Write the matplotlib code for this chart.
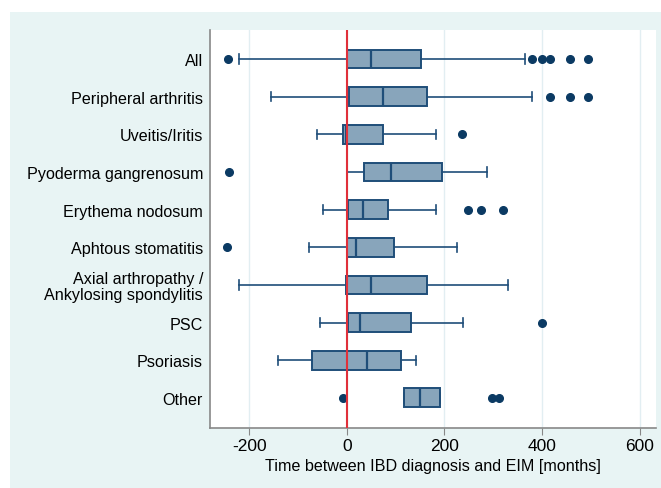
import matplotlib
matplotlib.use("Agg")
import matplotlib.pyplot as plt
from matplotlib.patches import Rectangle

plt.rcParams['font.family'] = ['Liberation Sans', 'DejaVu Sans']

categories = ["All", "Peripheral arthritis", "Uveitis/Iritis", "Pyoderma gangrenosum",
              "Erythema nodosum", "Aphtous stomatitis",
              "Axial arthropathy /\nAnkylosing spondylitis", "PSC", "Psoriasis", "Other"]
whislo = [-220, -155, -61, 0, -48, -78, -220, -55, -140, 118]
q1 = [0, 5, -8, 36, 2, 0, -2, 2, -72, 118]
med = [50, 75, -2, 90, 33, 19, 50, 28, 41, 150]
q3 = [151, 164, 75, 194, 85, 97, 164, 132, 110, 190]
whishi = [365, 380, 183, 287, 183, 226, 331, 238, 141, 190]
fliers = [[-243, 380, 399, 415, 457, 493],
          [415, 457, 493],
          [235],
          [-242],
          [249, 274, 319],
          [-245],
          [],
          [400],
          [],
          [-7, 298, 312]]
xticks = [-200, 0, 200, 400, 600]
xlabel = "Time between IBD diagnosis and EIM [months]"

fig = plt.figure(figsize=(6.61, 4.89), dpi=100)
fig.patch.set_facecolor('white')
fig.patches.append(Rectangle((10/661, 0), 1 - 10/661, (489-13)/489, transform=fig.transFigure,
                             facecolor='#e8f4f4', edgecolor='none', zorder=-10))
ax = fig.add_axes([210/661, 60/489, (656-210)/661, (429-31)/489])
ax.set_facecolor('white')

stats = []
for i in range(len(categories)):
    stats.append(dict(label=categories[i], whislo=whislo[i], q1=q1[i], med=med[i],
                      q3=q3[i], whishi=whishi[i], fliers=fliers[i]))

edge = '#1f4e79'
positions = list(range(1, len(categories) + 1))
ax.bxp(stats, positions=positions, vert=False, widths=0.5, patch_artist=True,
       showfliers=True,
       boxprops=dict(facecolor='#88a5bb', edgecolor=edge, linewidth=1.4),
       medianprops=dict(color=edge, linewidth=1.6),
       whiskerprops=dict(color=edge, linewidth=1.2),
       capprops=dict(color=edge, linewidth=1.2),
       flierprops=dict(marker='o', markerfacecolor='#0b3a63', markeredgecolor='#0b3a63',
                       markersize=5.5, linestyle='none'))

ax.axvline(0, color='#e0303a', linewidth=1.5, zorder=5)
ax.set_xlim(-280, 633)
ax.set_ylim(10.8, 0.23)
ax.set_xticks(xticks)
ax.set_xticklabels([str(t) for t in xticks])
ax.set_yticks(positions)
ax.set_yticklabels(categories, fontsize=11.6, linespacing=1.05)
ax.tick_params(axis='y', length=0, pad=5)
ax.tick_params(axis='x', length=5, color='#888888', labelsize=12.5, pad=2)
ax.grid(axis='x', color='#e2eef2', linewidth=1.0)
ax.set_axisbelow(True)
ax.set_xlabel(xlabel, fontsize=11.6, labelpad=3.5)
for s in ['top', 'right']:
    ax.spines[s].set_visible(False)
for s in ['left', 'bottom']:
    ax.spines[s].set_color('#888888')
    ax.spines[s].set_linewidth(1.2)

fig.savefig('out.png', dpi=100)
